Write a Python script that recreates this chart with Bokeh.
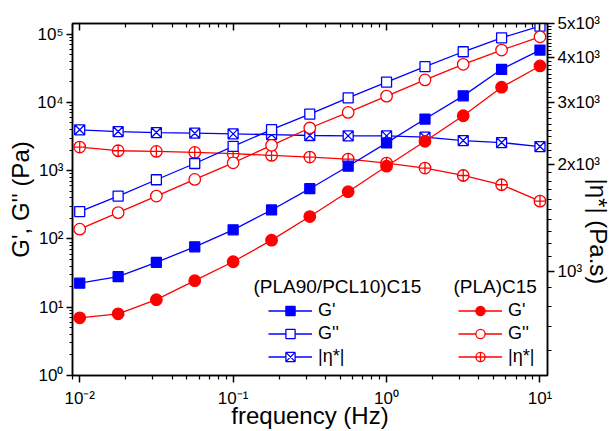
import math
from bokeh.plotting import figure
from bokeh.models import (Range1d, LogScale, LogAxis, FixedTicker, CustomJSTickFormatter,
                          Legend, LegendItem, Label, Title)
from bokeh.embed import file_html
from bokeh.resources import INLINE

# ---------------- data ----------------
freq = [0.01, 0.0178, 0.0316, 0.0562, 0.1, 0.178, 0.316, 0.562, 1.0, 1.78, 3.16, 5.62, 10.0]

# (PLA90/PCL10)C15
gp_blend = [22.5, 28.0, 45.4, 76.7, 136, 266, 545, 1164, 2552, 5710, 12480, 30550, 58400]
gpp_blend = [252, 425, 737, 1274, 2276, 3990, 6750, 11670, 19770, 33370, 55200, 88300, 131000]
eta_blend = [2509, 2481, 2465, 2455, 2444, 2433, 2418, 2413, 2413, 2392, 2340, 2310, 2251]

# (PLA)C15
gp_pla = [7.0, 8.0, 12.9, 24.5, 46.4, 96, 213, 492, 1164, 2692, 6380, 16710, 34200]
gpp_pla = [139, 243, 425, 744, 1304, 2354, 4220, 7125, 12360, 21340, 36140, 58400, 91400]
eta_pla = [2244, 2191, 2181, 2167, 2149, 2125, 2103, 2076, 2023, 1958, 1866, 1757, 1580]

x_ticks = [0.01, 0.1, 1, 10]
x_tick_labels = ["10⁻²", "10⁻¹", "10⁰", "10¹"]
y_ticks = [1, 10, 100, 1000, 10000, 100000]
y_tick_labels = ["10⁰", "10¹", "10²", "10³", "10⁴", "10⁵"]
eta_ticks = [1000, 2000, 3000, 4000, 5000]
eta_tick_labels = ["10³", "2x10³", "3x10³", "4x10³", "5x10³"]

group_titles = ["(PLA90/PCL10)C15", "(PLA)C15"]
entry_labels = ["G'", "G''", "|η*|"]
x_title = "frequency (Hz)"
y_title = "G', G'' (Pa)"
y2_title = "|η*| (Pa.s)"

BLUE = "#0000FF"
RED = "#FF0000"
FONT = "Liberation Sans"

X_LO, X_HI = 10 ** -2.047, 10 ** 1.049
Y_LO, Y_HI = 1, 10 ** 5.156
E_LO, E_HI = 510, 5000

p = figure(width=610, height=431, x_axis_type="log", y_axis_type="log",
           x_range=Range1d(X_LO, X_HI), y_range=Range1d(Y_LO, Y_HI),
           output_backend="svg", toolbar_location=None,
           min_border_left=72, min_border_right=63, min_border_top=23, min_border_bottom=54)
p.extra_y_ranges = {"eta": Range1d(E_LO, E_HI)}
p.extra_y_scales = {"eta": LogScale()}

p.xgrid.visible = False
p.ygrid.visible = False
p.outline_line_color = "black"
p.outline_line_width = 1.5
p.background_fill_color = "white"
p.border_fill_color = "white"

FMT = """
for (let i = 0; i < tks.length; i++) {
  if (Math.abs(Math.log10(tick) - Math.log10(tks[i])) < 1e-6) return lbls[i];
}
return "";
"""


def minors(lo, hi, majors):
    out = []
    for e in range(-4, 7):
        for k in range(2, 10):
            v = k * 10 ** e
            if lo <= v <= hi and v not in majors:
                out.append(v)
    return out


x_minor = minors(X_LO, X_HI, x_ticks)
y_minor = minors(Y_LO, Y_HI, y_ticks)
eta_minor = [v for v in range(600, 5001, 100) if v not in eta_ticks]


def style_axis(ax):
    ax.axis_line_width = 1.5
    ax.major_tick_line_width = 1.5
    ax.minor_tick_line_width = 1.2
    ax.major_label_text_font = FONT
    ax.major_label_text_font_size = "17px"
    ax.major_label_text_color = "black"
    ax.axis_label_text_font = FONT
    ax.axis_label_text_font_size = "24px"
    ax.axis_label_text_font_style = "normal"
    ax.axis_label_text_color = "black"


# bottom axis
xa = p.xaxis[0]
xa.ticker = FixedTicker(ticks=x_ticks, minor_ticks=x_minor)
xa.formatter = CustomJSTickFormatter(args=dict(tks=x_ticks, lbls=x_tick_labels), code=FMT)
style_axis(xa)
xa.major_tick_in = 0
xa.major_tick_out = 7
xa.minor_tick_in = 0
xa.minor_tick_out = 4
xa.major_label_standoff = 6
xa.axis_label = x_title
xa.axis_label_standoff = -9

# left axis
ya = p.yaxis[0]
ya.ticker = FixedTicker(ticks=y_ticks, minor_ticks=y_minor)
ya.formatter = CustomJSTickFormatter(args=dict(tks=y_ticks, lbls=y_tick_labels), code=FMT)
style_axis(ya)
ya.major_tick_in = 0
ya.major_tick_out = 6
ya.minor_tick_in = 0
ya.minor_tick_out = 3
ya.major_label_standoff = 3
ya.axis_label = y_title
ya.axis_label_standoff = 0

# top axis (mirror ticks, inward)
ta = LogAxis(ticker=FixedTicker(ticks=x_ticks, minor_ticks=x_minor))
style_axis(ta)
ta.major_tick_in = 7
ta.major_tick_out = 0
ta.minor_tick_in = 4
ta.minor_tick_out = 0
ta.major_label_text_font_size = "0px"
ta.major_label_text_alpha = 0
ta.major_label_standoff = 0
p.add_layout(ta, "above")

# right axis (|eta*|)
ra = LogAxis(y_range_name="eta", ticker=FixedTicker(ticks=eta_ticks, minor_ticks=eta_minor),
             formatter=CustomJSTickFormatter(args=dict(tks=eta_ticks, lbls=eta_tick_labels), code=FMT))
style_axis(ra)
ra.major_tick_in = 0
ra.major_tick_out = 7
ra.minor_tick_in = 0
ra.minor_tick_out = 4
ra.major_label_standoff = 3
p.add_layout(ra, "right")

# right axis title, placed lower along the axis as in the reference
try:
    t2 = Title(text=y2_title, align="left", vertical_align="bottom", offset=155, standoff=-38,
               text_font=FONT, text_font_size="24px", text_font_style="normal",
               text_color="black")
    p.add_layout(t2, "right")
except Exception:
    ra.axis_label = y2_title
    ra.axis_label_standoff = -18


def series(y, color, marker, fill, size, yname=None):
    kw = {} if yname is None else {"y_range_name": yname}
    ln = p.line(freq, y, line_color=color, line_width=1.3, **kw)
    sc = p.scatter(freq, y, marker=marker, size=size, line_color=color, fill_color=fill,
                   line_width=1.3, **kw)
    return [ln, sc]


r_eta_blend = series(eta_blend, BLUE, "square_x", "white", 10, "eta")
r_eta_pla = series(eta_pla, RED, "circle_cross", "white", 11.5, "eta")
r_gpp_blend = series(gpp_blend, BLUE, "square", "white", 10)
r_gpp_pla = series(gpp_pla, RED, "circle", "white", 11.5)
r_gp_blend = series(gp_blend, BLUE, "square", BLUE, 10)
r_gp_pla = series(gp_pla, RED, "circle", RED, 11.5)


def make_legend(renderer_sets, loc):
    items = [LegendItem(label=lab, renderers=rs) for lab, rs in zip(entry_labels, renderer_sets)]
    lg = Legend(items=items, location=loc, orientation="vertical",
                glyph_width=44, glyph_height=23, label_height=23, spacing=0,
                padding=0, margin=0, label_standoff=6,
                border_line_alpha=0, background_fill_alpha=0,
                label_text_font=FONT, label_text_font_size="18px", label_text_color="black")
    return lg


p.add_layout(make_legend([r_gp_blend, r_gpp_blend, r_eta_blend], (196, 7.5)))
p.add_layout(make_legend([r_gp_pla, r_gpp_pla, r_eta_pla], (386, 7.5)))

# group titles
for txt, gx in zip(group_titles, [181, 381]):
    p.add_layout(Label(x=gx, y=89, x_units="screen", y_units="screen", text=txt,
                       text_font=FONT, text_font_size="19px", text_color="black",
                       text_align="left", text_baseline="middle"))

open("out.html", "w").write(file_html(p, INLINE))
